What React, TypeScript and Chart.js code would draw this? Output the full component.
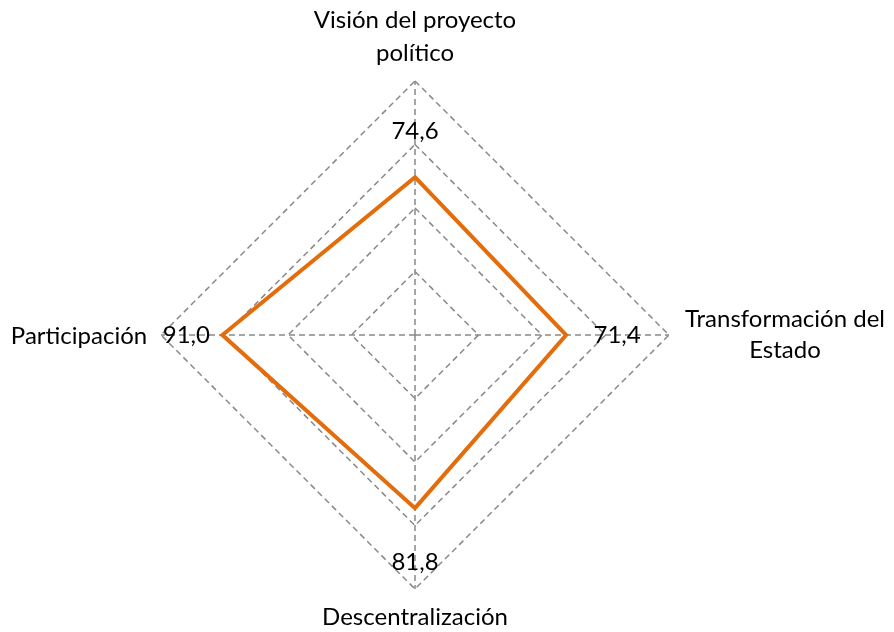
import React, { useEffect, useRef } from "react";
import { Chart, registerables } from "chart.js";

Chart.register(...registerables);

const categories: string[][] = [
  ["Visión del proyecto", "político"],
  ["Transformación del", "Estado"],
  ["Descentralización"],
  ["Participación"],
];
const values: number[] = [74.6, 71.4, 81.8, 91.0];
const valueLabels: string[] = ["74,6", "71,4", "81,8", "91,0"];
const scaleMax = 120;
const scaleStep = 30;

const FONT = "Lato, 'Noto Sans', sans-serif";
const FONT_SIZE = 24;

const labelPlugin = {
  id: "customLabels",
  afterDatasetsDraw(chart: any) {
    const ctx = chart.ctx;
    const scale = chart.scales.r;
    ctx.save();
    ctx.fillStyle = "#000";
    ctx.font = `${FONT_SIZE}px ${FONT}`;
    ctx.textAlign = "center";
    ctx.textBaseline = "middle";
    // value labels, pushed outward from the points
    const outward = [46, 51, 54, 36];
    values.forEach((v, i) => {
      const p = scale.getPointPositionForValue(i, v);
      const a = p.angle;
      const x = p.x + Math.cos(a) * outward[i];
      const y = p.y + Math.sin(a) * outward[i];
      ctx.fillText(valueLabels[i], x, y);
    });
    // category labels around the outer ring (first-line centre offsets)
    const place = [
      { dx: 0, dy: -61, lh: 33 },
      { dx: 116, dy: -16, lh: 31 },
      { dx: 0, dy: 28, lh: 31 },
      { dx: -82, dy: 1, lh: 31 },
    ];
    categories.forEach((lines, i) => {
      const p = scale.getPointPositionForValue(i, scaleMax);
      const o = place[i];
      lines.forEach((line, k) => {
        ctx.fillText(line, p.x + o.dx, p.y + o.dy + k * o.lh);
      });
    });
    ctx.restore();
  },
};

export default function App() {
  const ref = useRef<HTMLCanvasElement | null>(null);
  useEffect(() => {
    if (!ref.current) return;
    const chart = new Chart(ref.current, {
      type: "radar",
      data: {
        labels: categories,
        datasets: [
          {
            data: values,
            borderColor: "#E46C0A",
            borderWidth: 4,
            fill: false,
            pointRadius: 0,
            pointHoverRadius: 0,
            tension: 0,
          },
        ],
      },
      options: {
        animation: false,
        responsive: false,
        maintainAspectRatio: false,
        layout: { padding: { top: 81, bottom: 43, left: 0, right: 64 } },
        plugins: { legend: { display: false }, tooltip: { enabled: false } },
        scales: {
          r: {
            min: 0,
            max: scaleMax,
            ticks: { display: false, stepSize: scaleStep },
            pointLabels: { display: false },
            grid: {
              circular: false,
              color: "#898989",
              lineWidth: 1.5,
            },
            border: { dash: [6, 4] },
            angleLines: {
              color: "#898989",
              lineWidth: 1.5,
              borderDash: [6, 4],
            },
          },
        },
      },
      plugins: [labelPlugin],
    });
    return () => chart.destroy();
  }, []);
  return (
    <div style={{ position: "fixed", left: 0, top: 0, width: 894, height: 632, background: "#fff" }}>
      <canvas ref={ref} width={894} height={632} style={{ width: 894, height: 632 }} />
    </div>
  );
}
